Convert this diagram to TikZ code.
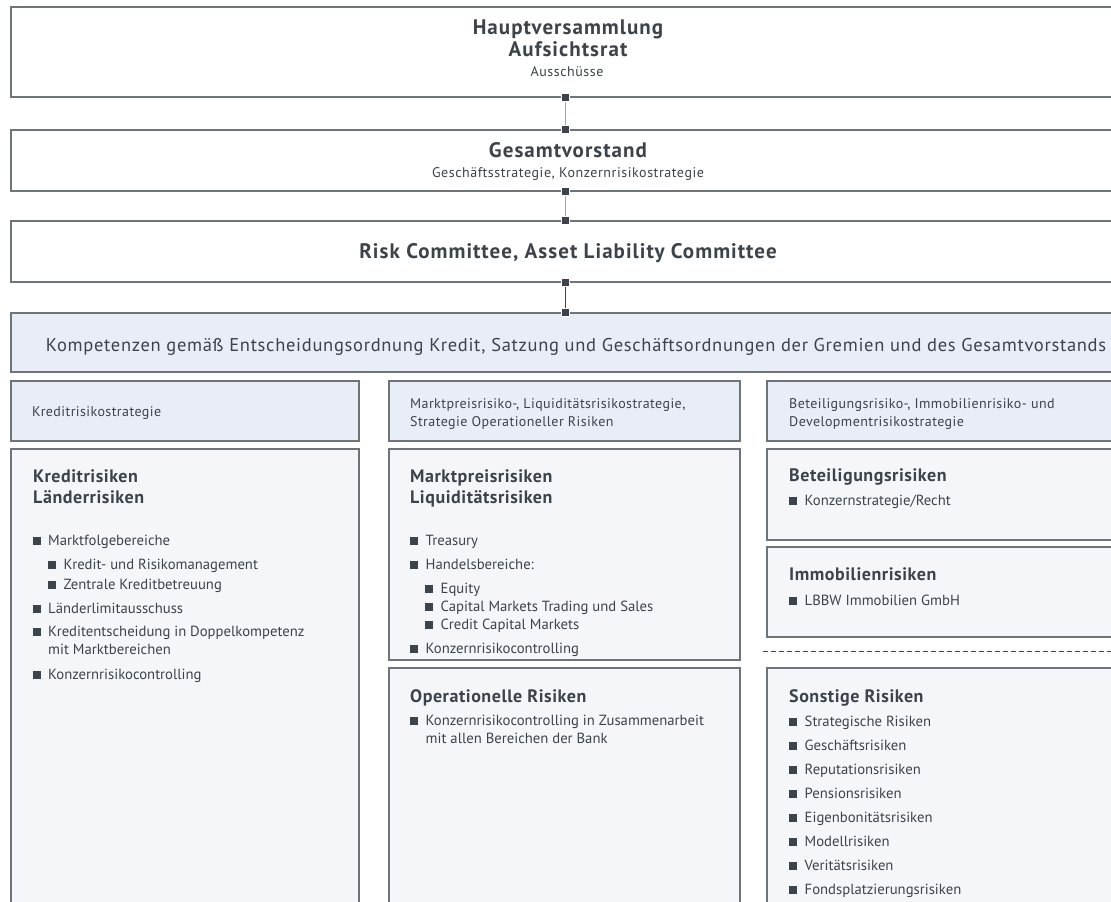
\documentclass[tikz,border=0pt]{standalone}
\usepackage{fontspec}
\setmainfont{PT Sans}
\definecolor{ink}{HTML}{3D434A}
\definecolor{rim}{HTML}{6F747A}
\definecolor{blau}{HTML}{E9EDF5}
\definecolor{blass}{HTML}{F4F6FA}
\definecolor{steg}{HTML}{A3A7AC}
% Eintrag mit Viereck: Name, x, Grundlinie, Text
\newcommand\eintrag[4]{%
  \fill[ink] (#2,#3-0.5) rectangle ++(8,-8);
  \node[liste] (#1) at (#2+15.5,#3) {#4};}
\begin{document}
\begin{tikzpicture}[x=1pt,y=-1pt,
    kasten/.style={draw=rim, line width=1.1pt, rectangle, inner sep=0pt},
    oben/.style={kasten, fill=white},
    blaukasten/.style={kasten, fill=blau},
    spalte/.style={kasten, fill=blass},
    kopf/.style={text=ink, inner sep=0pt, anchor=base,
      font=\fontsize{21}{25}\selectfont\bfseries\addfontfeature{LetterSpace=5}},
    unter/.style={text=ink, inner sep=0pt, anchor=base,
      font=\fontsize{14}{17}\selectfont\addfontfeature{LetterSpace=4}},
    titel/.style={text=ink, inner sep=0pt, anchor=base west,
      font=\fontsize{18}{21}\selectfont\bfseries\addfontfeature{LetterSpace=3}},
    strat/.style={text=ink, inner sep=0pt, anchor=base west,
      font=\fontsize{14}{17}\selectfont\addfontfeature{LetterSpace=3}},
    liste/.style={text=ink, inner sep=0pt, anchor=base west, font=\fontsize{14.7}{17}\selectfont},
    knopf/.style={fill=ink, draw=white, line width=1.5pt, minimum size=8pt, inner sep=0pt},
  ]
  \useasboundingbox (0,0) rectangle (1111,902);
  \clip (0,0) rectangle (1111,902);
  % ------ Gremien -----------------
  \node[oben, minimum width=1109pt, minimum height=90pt] (hv) at (565.5,52) {};
  \node[oben, minimum width=1109pt, minimum height=61pt] (gv) at (565.5,160.5) {};
  \node[oben, minimum width=1109pt, minimum height=61pt] (rc) at (565.5,251.5) {};
  \node[blaukasten, minimum width=1109pt, minimum height=59pt] (komp) at (565.5,342.5) {};
  \node[kopf] (hvt) at (568,34.5) {Hauptversammlung};
  \node[kopf] (art) at (568,56.5) {Aufsichtsrat};
  \node[unter] (aus) at (567,76.5) {Ausschüsse};
  \node[kopf] (gvt) at (568,157) {Gesamtvorstand};
  \node[unter] (gvs) at (568,177) {Geschäftsstrategie, Konzernrisikostrategie};
  \node[kopf] (rct) at (568,258) {Risk Committee, Asset Liability Committee};
  \node[text=ink, inner sep=0pt, anchor=base west,
    font=\fontsize{18.5}{22}\selectfont\addfontfeature{LetterSpace=3.8}]
    (kompt) at (45.7,351) {Kompetenzen gemäß Entscheidungsordnung Kredit, Satzung und Geschäftsordnungen der Gremien und des Gesamtvorstands};
  % ------ Verbindungen -----------------
  \draw[steg, line width=1pt] (hv.south) -- (gv.north);
  \draw[steg, line width=1pt] (gv.south) -- (rc.north);
  \draw[ink, line width=1.5pt] (rc.south) -- (komp.north);
  \foreach \k in {hv.south, gv.north, gv.south, rc.north, rc.south, komp.north}
    \node[knopf] at (\k) {};
  % ------ Strategien -----------------
  \node[blaukasten, minimum width=348pt, minimum height=60pt] (s1) at (185,411) {};
  \node[blaukasten, minimum width=351pt, minimum height=60pt] (s2) at (564.5,411) {};
  \node[blaukasten, minimum width=353pt, minimum height=60pt] (s3) at (943.5,411) {};
  \node[strat] (s1t) at (32,416.5) {Kreditrisikostrategie};
  \node[strat] (s2a) at (410,408) {Marktpreisrisiko-, Liquiditätsrisikostrategie,};
  \node[strat] (s2b) at (410,426.5) {Strategie Operationeller Risiken};
  \node[strat] (s3a) at (789,408) {Beteiligungsrisiko-, Immobilienrisiko- und};
  \node[strat] (s3b) at (789,426.5) {Developmentrisikostrategie};
  % ------ Risikoarten -----------------
  \node[spalte, minimum width=348pt, minimum height=466pt] (k1) at (185,682) {};
  \node[spalte, minimum width=351pt, minimum height=211pt] (m2) at (564.5,554.5) {};
  \node[spalte, minimum width=351pt, minimum height=247pt] (o2) at (564.5,791.5) {};
  \node[spalte, minimum width=353pt, minimum height=91pt] (b3) at (943.5,494.5) {};
  \node[spalte, minimum width=353pt, minimum height=90pt] (i3) at (943.5,592) {};
  \node[spalte, minimum width=353pt, minimum height=247pt] (so3) at (943.5,791.5) {};
  \draw[ink, line width=1pt, dash pattern=on 5pt off 3pt] (762.7,651.7) -- (1115,651.7);
  % Kredit
  \node[titel] (k1a) at (33,482) {Kreditrisiken};
  \node[titel] (k1b) at (33,503) {Länderrisiken};
  \eintrag{k1c}{32.5}{545.8}{Marktfolgebereiche}
  \eintrag{k1d}{48}{569.3}{Kredit- und Risikomanagement}
  \eintrag{k1e}{48}{589.3}{Zentrale Kreditbetreuung}
  \eintrag{k1f}{32.5}{613.3}{Länderlimitausschuss}
  \eintrag{k1g}{32.5}{636.7}{Kreditentscheidung in Doppelkompetenz}
  \node[liste] (k1h) at (48,654.3) {mit Marktbereichen};
  \eintrag{k1i}{32.5}{679}{Konzernrisikocontrolling}
  % Markt
  \node[titel] (m2a) at (410,482) {Marktpreisrisiken};
  \node[titel] (m2b) at (410,503) {Liquiditätsrisiken};
  \eintrag{m2c}{410}{545.5}{Treasury}
  \eintrag{m2d}{410}{569.3}{Handelsbereiche:}
  \eintrag{m2e}{425}{593.3}{Equity}
  \eintrag{m2f}{425}{611}{Capital Markets Trading und Sales}
  \eintrag{m2g}{425}{629.3}{Credit Capital Markets}
  \eintrag{m2h}{410}{653.3}{Konzernrisikocontrolling}
  \node[titel] (o2a) at (410,702.7) {Operationelle Risiken};
  \eintrag{o2b}{410}{725.3}{Konzernrisikocontrolling in Zusammenarbeit}
  \node[liste] (o2c) at (425.5,743) {mit allen Bereichen der Bank};
  % Beteiligung, Immobilien, Sonstige
  \node[titel] (b3a) at (789,481.7) {Beteiligungsrisiken};
  \eintrag{b3b}{789}{505}{Konzernstrategie/Recht}
  \node[titel] (i3a) at (789,580) {Immobilienrisiken};
  \eintrag{i3b}{789}{605}{LBBW Immobilien GmbH}
  \node[titel] (so3a) at (789,702.7) {Sonstige Risiken};
  \foreach \t [count=\i from 0] in {Strategische Risiken, Geschäftsrisiken, Reputationsrisiken,
      Pensionsrisiken, Eigenbonitätsrisiken, Modellrisiken, Veritätsrisiken, Fondsplatzierungsrisiken}
    {\eintrag{so\i}{789}{726+24*\i}{\t}}
\end{tikzpicture}
\end{document}
